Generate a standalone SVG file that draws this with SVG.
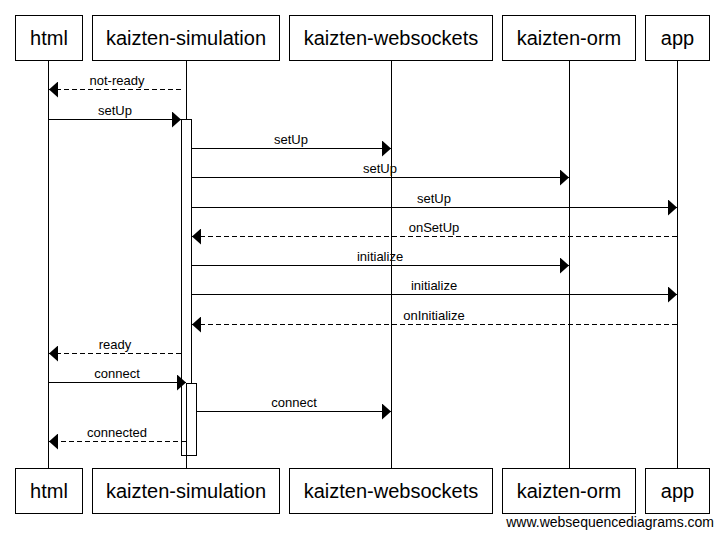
<svg xmlns="http://www.w3.org/2000/svg" width="723" height="537" viewBox="0 0 723 537">
<style>
.box{fill:#fff;stroke:#000;stroke-width:1}
.life{stroke:#000;stroke-width:1;fill:none}
.act{fill:#fff;stroke:#000;stroke-width:1}
.pt{font-family:"Liberation Sans",Arial,sans-serif;font-size:20px;text-anchor:middle;fill:#000}
.msg{stroke:#000;stroke-width:1;fill:none;marker-end:url(#ah)}
.dash{stroke-dasharray:5,3}
.lbl{font-family:"Liberation Sans",Arial,sans-serif;font-size:13px;text-anchor:middle;fill:#000}
.foot{font-family:"Liberation Sans",Arial,sans-serif;font-size:14px;text-anchor:end;fill:#000}
</style>
<defs>
<marker id="ah" markerUnits="userSpaceOnUse" viewBox="0 0 9 16" refX="9" refY="8" markerWidth="9" markerHeight="16" orient="auto">
<path d="M0,0 L9,8 L0,16 Z" fill="#000"/>
</marker>
</defs>
<rect width="723" height="537" fill="#fff"/>
<g id="html">
<line class="life" x1="48.5" y1="60.5" x2="48.5" y2="468.5"/>
<rect class="box" x="15.5" y="15.5" width="67" height="45"/>
<text class="pt" x="49" y="45">html</text>
<rect class="box" x="15.5" y="468.5" width="67" height="45"/>
<text class="pt" x="49" y="498">html</text>
</g>
<g id="kaizten-simulation">
<line class="life" x1="186.5" y1="60.5" x2="186.5" y2="468.5"/>
<rect class="box" x="92.5" y="15.5" width="187" height="45"/>
<text class="pt" x="186" y="45">kaizten-simulation</text>
<rect class="box" x="92.5" y="468.5" width="187" height="45"/>
<text class="pt" x="186" y="498">kaizten-simulation</text>
<rect class="act" x="181.5" y="119.5" width="10" height="336"/>
<rect class="act" x="186.5" y="383.5" width="10" height="72"/>
</g>
<g id="kaizten-websockets">
<line class="life" x1="391.5" y1="60.5" x2="391.5" y2="468.5"/>
<rect class="box" x="289.5" y="15.5" width="203" height="45"/>
<text class="pt" x="391" y="45">kaizten-websockets</text>
<rect class="box" x="289.5" y="468.5" width="203" height="45"/>
<text class="pt" x="391" y="498">kaizten-websockets</text>
</g>
<g id="kaizten-orm">
<line class="life" x1="569.5" y1="60.5" x2="569.5" y2="468.5"/>
<rect class="box" x="502.5" y="15.5" width="133" height="45"/>
<text class="pt" x="569" y="45">kaizten-orm</text>
<rect class="box" x="502.5" y="468.5" width="133" height="45"/>
<text class="pt" x="569" y="498">kaizten-orm</text>
</g>
<g id="app">
<line class="life" x1="677.5" y1="60.5" x2="677.5" y2="468.5"/>
<rect class="box" x="645.5" y="15.5" width="64" height="45"/>
<text class="pt" x="677.5" y="45">app</text>
<rect class="box" x="645.5" y="468.5" width="64" height="45"/>
<text class="pt" x="677.5" y="498">app</text>
</g>
<g id="connectors">
<line class="msg dash" x1="181" y1="89.5" x2="49" y2="89.5"/>
<text class="lbl" x="117" y="85">not-ready</text>
<line class="msg" x1="49" y1="119.5" x2="181" y2="119.5"/>
<text class="lbl" x="115" y="115">setUp</text>
<line class="msg" x1="192" y1="148.5" x2="391" y2="148.5"/>
<text class="lbl" x="291" y="144">setUp</text>
<line class="msg" x1="192" y1="177.5" x2="569" y2="177.5"/>
<text class="lbl" x="380" y="173">setUp</text>
<line class="msg" x1="192" y1="207.5" x2="677" y2="207.5"/>
<text class="lbl" x="434" y="203">setUp</text>
<line class="msg dash" x1="677" y1="236.5" x2="192" y2="236.5"/>
<text class="lbl" x="434" y="232">onSetUp</text>
<line class="msg" x1="192" y1="265.5" x2="569" y2="265.5"/>
<text class="lbl" x="380" y="261">initialize</text>
<line class="msg" x1="192" y1="294.5" x2="677" y2="294.5"/>
<text class="lbl" x="434" y="290">initialize</text>
<line class="msg dash" x1="677" y1="324.5" x2="192" y2="324.5"/>
<text class="lbl" x="434" y="320">onInitialize</text>
<line class="msg dash" x1="181" y1="353.5" x2="49" y2="353.5"/>
<text class="lbl" x="115" y="349">ready</text>
<line class="msg" x1="49" y1="382.5" x2="186" y2="382.5"/>
<text class="lbl" x="117" y="378">connect</text>
<line class="msg" x1="197" y1="411.5" x2="391" y2="411.5"/>
<text class="lbl" x="294" y="407">connect</text>
<line class="msg dash" x1="186" y1="441.5" x2="49" y2="441.5"/>
<text class="lbl" x="117" y="437">connected</text>
</g>
<text class="foot" x="714" y="527">www.websequencediagrams.com</text>
</svg>
